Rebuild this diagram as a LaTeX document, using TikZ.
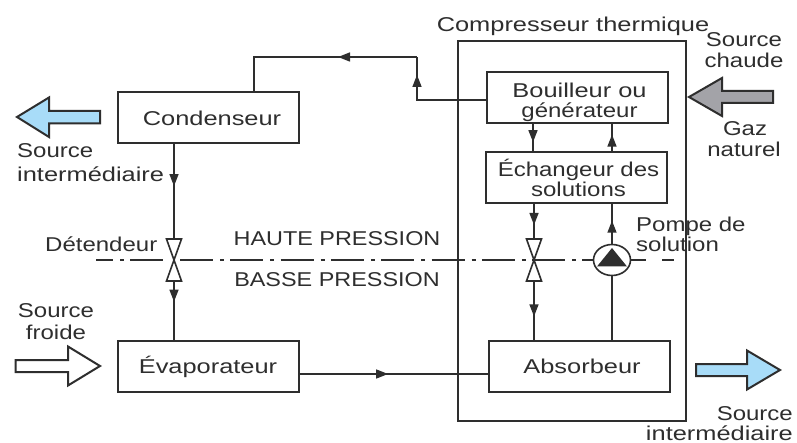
\documentclass[tikz,border=0pt]{standalone}
\usepackage{fontspec}
\setmainfont[FakeStretch=1.2]{Liberation Sans}
\newfontfamily\widefont[FakeStretch=1.27]{Liberation Sans}
\newfontfamily\capsfont[FakeStretch=1.17]{Liberation Sans}
\usetikzlibrary{arrows.meta,decorations.markings,shapes.geometric}
\definecolor{ink}{HTML}{2E2E2E}
\definecolor{lightblue}{HTML}{A8DCF8}
\definecolor{gasgray}{HTML}{A3A3A8}
\tikzset{
  unitbox/.style={draw=ink,line width=2pt,fill=white,minimum width=181pt,minimum height=51pt,inner sep=0pt,align=center,text=ink},
  lbl/.style={inner sep=0pt,text=ink,anchor=base},
  pipe/.style={draw=ink,line width=1.4pt},
  flowmark/.style={postaction={decorate},decoration={markings,mark=at position #1 with {\arrow{Triangle[length=12pt,width=9pt]}}}},
  blockarrow/.style={draw=ink,line width=2pt,miter limit=10},
  valvepart/.style={draw=ink,line width=1.6pt,fill=white},
  pressline/.style={draw=ink,line width=2.7pt,dash pattern=on 33pt off 7pt on 4pt off 6.3pt}
}
\begin{document}
\begin{tikzpicture}[x=1pt,y=-1pt,font=\fontsize{20}{21}\selectfont]
\useasboundingbox (0,0) rectangle (797,443);
\fill[white] (0,0) rectangle (797,443);

% compressor enclosure
\node[draw=ink,line width=1.5pt,minimum width=228pt,minimum height=380pt,inner sep=0pt] (comp) at (572,231) {};
\node[lbl] (comptitle) at (573,32) {\widefont Compresseur thermique};

% units
\node[unitbox] (cond) at (208,118) {\widefont\hspace*{8pt}Condenseur};
\node[unitbox] (evap) at (208,366.5) {\widefont Évaporateur};
\node[unitbox] (bouil) at (577.5,97.5) {\widefont\rule{0pt}{25pt}\hspace*{4pt}Bouilleur ou\\[-1pt]\hspace*{4pt}générateur};
\node[unitbox] (ech) at (576,177.5) {\hspace*{5pt}Échangeur des\\[-1pt]\hspace*{5pt}solutions};
\node[unitbox] (abs) at (579.5,366.5) {\widefont\hspace*{5pt}Absorbeur};

% pressure line
\coordinate (pl1) at (96,260);
\coordinate (pl2) at (167,260);
\coordinate (pl3) at (180,260);
\coordinate (pl4) at (675,260);
\node[draw=ink,line width=1.6pt,fill=white,ellipse,minimum width=37pt,minimum height=31pt,inner sep=0pt] (pump) at (612,260) {};
\draw[pressline,dash phase=16pt] (pl1) -- (pl2);
\draw[pressline] (pl3) -- (pump.west);
\draw[draw=ink,line width=1.4pt,dash pattern=on 15pt off 16pt on 12pt off 10pt] (pump.east) -- (pl4);
\fill[ink] (597,266.5) -- (612,248) -- (627,266.5) -- cycle;

% valves
\coordinate (v1) at (174,260);
\coordinate (v1t) at (174,239);
\coordinate (v1b) at (174,281);
\coordinate (v2) at (534,260);
\coordinate (v2t) at (534,239);
\coordinate (v2b) at (534,281);
\draw[valvepart] (166.5,239) -- (181.5,239) -- (v1) -- cycle;
\draw[valvepart] (166.5,281) -- (181.5,281) -- (v1) -- cycle;
\draw[valvepart] (526.5,239) -- (541.5,239) -- (v2) -- cycle;
\draw[valvepart] (526.5,281) -- (541.5,281) -- (v2) -- cycle;

% connectors
\coordinate (c1) at (254,57);
\coordinate (c2) at (417,57);
\coordinate (c3) at (417,100);
\draw[pipe,flowmark=0.84] (bouil.west |- c3) -- (c3) -- (c2);
\draw[pipe,flowmark=0.4] (c2) -- (c1) -- (c1 |- cond.north);
\draw[pipe,flowmark=0.44] (v1t |- cond.south) -- (v1t);
\draw[pipe,flowmark=0.35] (v1b) -- (v1b |- evap.north);
\draw[pipe,flowmark=0.47] (evap.east |- 0,374) -- (abs.west |- 0,374);
\draw[pipe,flowmark=0.66] (533,123) -- (533,152);
\draw[pipe,flowmark=0.6] (612,152) -- (612,123);
\draw[pipe,flowmark=0.6] (v2t |- ech.south) -- (v2t);
\draw[pipe,flowmark=0.6] (v2b) -- (v2b |- abs.north);
\draw[pipe,flowmark=0.58] (pump.north) -- (pump.north |- ech.south);
\draw[pipe] (pump.south) -- (pump.south |- abs.north);

% block arrows
\draw[blockarrow,fill=lightblue] (17,117) -- (49,97.5) -- (49,111) -- (100,111) -- (100,123.5) -- (49,123.5) -- (49,137) -- cycle;
\draw[blockarrow,fill=white] (100,366) -- (68,346.5) -- (68,360) -- (15.5,360) -- (15.5,372) -- (68,372) -- (68,385.5) -- cycle;
\draw[blockarrow,fill=gasgray] (689,97) -- (722,78) -- (722,91) -- (773,91) -- (773,103) -- (722,103) -- (722,116) -- cycle;
\draw[blockarrow,fill=lightblue] (780,370) -- (747,350.5) -- (747,364) -- (696,364) -- (696,376) -- (747,376) -- (747,389.5) -- cycle;

% labels
\node[lbl] (hp) at (337,246) {\capsfont HAUTE PRESSION};
\node[lbl] (bp) at (337,287) {\capsfont BASSE PRESSION};
\node[lbl,anchor=base west] (det) at (45,252) {Détendeur};
\node[lbl,anchor=base west] (si1a) at (17,158) {Source};
\node[lbl,anchor=base west] (si1b) at (17,182) {\widefont intermédiaire};
\node[lbl] (sfa) at (56,317) {Source};
\node[lbl] (sfb) at (56,339) {froide};
\node[lbl] (sca) at (744,47) {Source};
\node[lbl] (scb) at (744,68) {chaude};
\node[lbl] (gna) at (745,136) {Gaz};
\node[lbl] (gnb) at (744,157) {naturel};
\node[lbl,anchor=base west] (ppa) at (636,232) {Pompe de};
\node[lbl,anchor=base west] (ppb) at (636,252) {solution};
\node[lbl,anchor=base east] (si2a) at (793,420) {Source};
\node[lbl,anchor=base east] (si2b) at (793,440) {\widefont intermédiaire};
\end{tikzpicture}
\end{document}
